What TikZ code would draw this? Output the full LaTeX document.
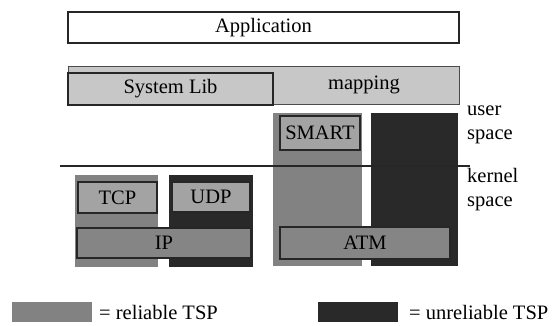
\documentclass[tikz,border=0pt]{standalone}
\usepackage{fontspec}
\setmainfont{Liberation Serif}
\tikzset{
  box/.style={draw=black!85, line width=1.1pt, inner sep=0pt, outer sep=0pt},
  col/.style={inner sep=0pt, outer sep=0pt},
  reliable/.style={fill=black!49},
  unreliable/.style={fill=black!84},
  proto/.style={box, fill=black!36},
  net/.style={box, fill=black!48},
  lbl/.style={inner sep=0pt, align=left, anchor=west},
}
\begin{document}
\begin{tikzpicture}[x=1pt, y=-1pt, font=\fontsize{20.5}{24}\selectfont]
\useasboundingbox (0,0) rectangle (558,325);
\node[box, fill=white, minimum width=391pt, minimum height=31pt] (app) at (263.5,27.5) {Application};
\node[box, draw=black!70, line width=0.9pt, fill=black!22, minimum width=391pt, minimum height=38pt] (map) at (263.5,85) {};
\node[box, fill=black!22, minimum width=205pt, minimum height=32pt] (syslib) at (170.5,89) {System Lib};
\node[inner sep=0pt] (maptxt) at (364,85) {mapping};
\node[col, reliable, minimum width=89pt, minimum height=153pt] (smartcol) at (317.5,189.5) {};
\node[col, unreliable, minimum width=87pt, minimum height=153pt] (atmcol) at (414.5,189.5) {};
\node[col, reliable, minimum width=83pt, minimum height=92pt] (tcpcol) at (116.5,221) {};
\node[col, unreliable, minimum width=84pt, minimum height=92pt] (udpcol) at (211,221) {};
\node[proto, minimum width=80pt, minimum height=34pt] (smart) at (320,133) {SMART};
\node[proto, minimum width=79pt, minimum height=31pt] (tcp) at (117.5,197.5) {TCP};
\node[proto, minimum width=78pt, minimum height=30pt] (udp) at (211,197) {UDP};
\node[net, minimum width=174pt, minimum height=30pt] (ip) at (164,243) {IP};
\node[net, minimum width=170pt, minimum height=32pt] (atm) at (365,243) {ATM};
\coordinate (divl) at (60,166);
\coordinate (divr) at (470,166);
\draw[line width=1.1pt, black!85] (divl) -- (divr);
\node[lbl] (user) at (467,125) {user\\space};
\node[lbl] (kernel) at (467,190) {kernel\\space};
\node[col, reliable, minimum width=80pt, minimum height=20pt] (relkey) at (52,312) {};
\node[lbl] (reltxt) at (99,312) {= reliable TSP};
\node[col, unreliable, minimum width=80pt, minimum height=20pt] (unrelkey) at (358,312) {};
\node[lbl] (unreltxt) at (409,312) {= unreliable TSP};
\end{tikzpicture}
\end{document}
